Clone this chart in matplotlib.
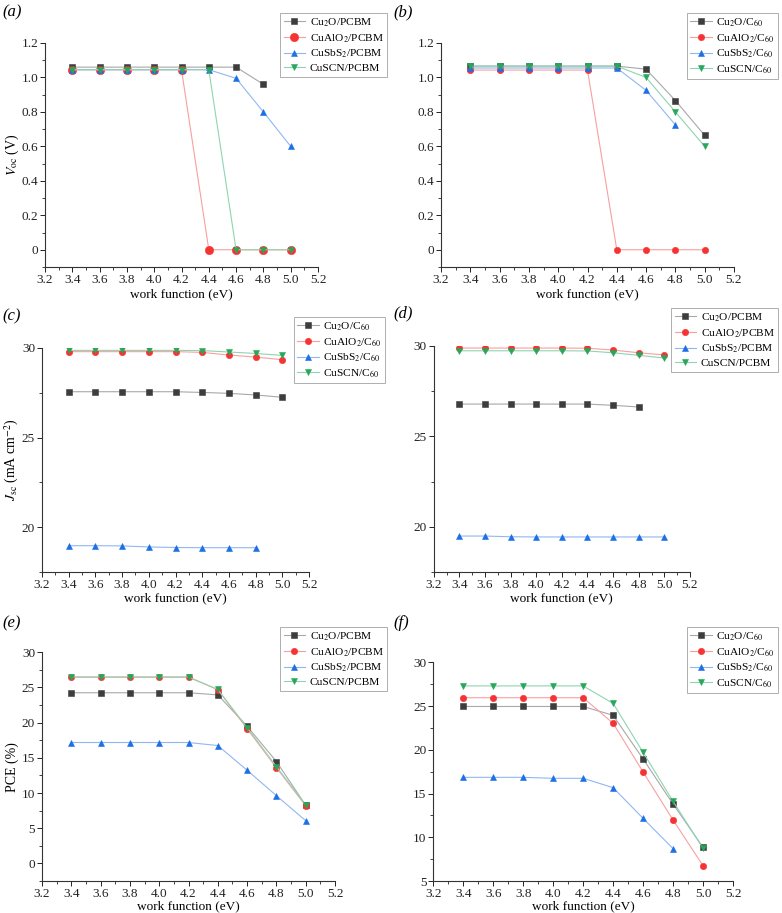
import matplotlib
matplotlib.use("Agg")
import matplotlib.pyplot as plt
from matplotlib.ticker import MultipleLocator, FuncFormatter
import numpy as np

plt.rcParams['font.family'] = ['Liberation Serif', 'DejaVu Serif']
plt.rcParams['mathtext.fontset'] = 'stix'

x = [3.4, 3.6, 3.8, 4.0, 4.2, 4.4, 4.6, 4.8, 5.0]
x8 = x[:8]

# (a) Voc, PCBM
voc_pcbm_cu2o = [1.06, 1.06, 1.06, 1.06, 1.06, 1.06, 1.06, 0.96]
voc_pcbm_cualo2 = [1.045, 1.045, 1.045, 1.045, 1.045, 0, 0, 0, 0]
voc_pcbm_cusbs2 = [1.045, 1.045, 1.045, 1.045, 1.045, 1.045, 0.995, 0.80, 0.60]
voc_pcbm_cuscn = [1.045, 1.045, 1.045, 1.045, 1.045, 1.045, 0, 0, 0]

# (b) Voc, C60
voc_c60_cu2o = [1.066, 1.066, 1.066, 1.066, 1.066, 1.066, 1.048, 0.866, 0.664]
voc_c60_cualo2 = [1.043, 1.043, 1.043, 1.043, 1.043, 0, 0, 0, 0]
voc_c60_cusbs2 = [1.055, 1.055, 1.055, 1.055, 1.055, 1.055, 0.925, 0.725]
voc_c60_cuscn = [1.066, 1.066, 1.066, 1.066, 1.066, 1.066, 1.0, 0.80, 0.60]

# (c) Jsc, C60
jsc_c60_cu2o = [27.55, 27.55, 27.55, 27.55, 27.55, 27.51, 27.46, 27.37, 27.24]
jsc_c60_cualo2 = [29.78, 29.78, 29.78, 29.78, 29.78, 29.74, 29.59, 29.48, 29.33]
jsc_c60_cusbs2 = [18.98, 18.98, 18.97, 18.91, 18.88, 18.87, 18.87, 18.87]
jsc_c60_cuscn = [29.85, 29.85, 29.85, 29.85, 29.85, 29.84, 29.76, 29.68, 29.57]

# (d) Jsc, PCBM
jsc_pcbm_cu2o = [26.78, 26.78, 26.78, 26.78, 26.78, 26.78, 26.71, 26.62]
jsc_pcbm_cualo2 = [29.87, 29.87, 29.87, 29.87, 29.87, 29.86, 29.76, 29.61, 29.49]
jsc_pcbm_cusbs2 = [19.50, 19.50, 19.46, 19.45, 19.45, 19.45, 19.45, 19.45, 19.45]
jsc_pcbm_cuscn = [29.72, 29.72, 29.72, 29.72, 29.72, 29.71, 29.61, 29.47, 29.32]

# (e) PCE, PCBM
pce_pcbm_cu2o = [24.25, 24.25, 24.25, 24.25, 24.25, 23.95, 19.5, 14.48, 8.26]
pce_pcbm_cualo2 = [26.45, 26.45, 26.45, 26.45, 26.45, 24.7, 19.13, 13.6, 8.2]
pce_pcbm_cusbs2 = [17.18, 17.18, 17.18, 17.18, 17.18, 16.75, 13.24, 9.63, 6.07]
pce_pcbm_cuscn = [26.5, 26.5, 26.5, 26.5, 26.5, 24.72, 19.3, 13.76, 8.3]

# (f) PCE, C60
pce_c60_cu2o = [24.95, 24.95, 24.95, 24.95, 24.95, 23.94, 18.95, 13.8, 8.85]
pce_c60_cualo2 = [25.95, 25.95, 25.95, 25.95, 25.95, 23.03, 17.46, 11.97, 6.75]
pce_c60_cusbs2 = [16.85, 16.85, 16.85, 16.74, 16.74, 15.67, 12.16, 8.7]
pce_c60_cuscn = [27.3, 27.3, 27.3, 27.3, 27.3, 25.3, 19.71, 14.1, 8.73]

lab_pcbm = ["Cu$_2$O/PCBM", "CuAlO$_2$/PCBM", "CuSbS$_2$/PCBM", "CuSCN/PCBM"]
lab_c60 = ["Cu$_2$O/C$_{60}$", "CuAlO$_2$/C$_{60}$", "CuSbS$_2$/C$_{60}$", "CuSCN/C$_{60}$"]

mcolors = ['#3d3d3d', '#f53333', '#1c6fe6', '#25a85a']
lcolors = ['#a8a8a8', '#f7a0a0', '#8fb8f2', '#8fd4b0']
markers = ['s', 'o', '^', 'v']

W, H = 782, 913
fig = plt.figure(figsize=(W / 100, H / 100), dpi=100)


def ax_px(l, r, t, b):
    return fig.add_axes([l / W, 1 - b / H, (r - l) / W, (b - t) / H])


def fmt_y1(v, pos):
    if abs(v) < 1e-9:
        return "0"
    return "%.1f" % v


def fmt_y0(v, pos):
    return "%d" % round(v)


panels = [
    dict(box=(45, 318, 43, 267), ylim=(-0.1, 1.2), maj=0.2, mnr=0.1, fmt=fmt_y1,
         data=[(x8, voc_pcbm_cu2o), (x, voc_pcbm_cualo2), (x, voc_pcbm_cusbs2), (x, voc_pcbm_cuscn)],
         labels=lab_pcbm, ylabel=r"$V_{\rm oc}$ (V)", leg=(387, 13), tag="(a)", tagpos=(2, 12),
         big_red=True, xlab_dy=27),
    dict(box=(441, 734, 43, 267), ylim=(-0.1, 1.2), maj=0.2, mnr=0.1, fmt=fmt_y1,
         data=[(x, voc_c60_cu2o), (x, voc_c60_cualo2), (x8, voc_c60_cusbs2), (x, voc_c60_cuscn)],
         labels=lab_c60, ylabel=None, leg=(778, 13), tag="(b)", tagpos=(393, 12),
         big_red=False, xlab_dy=27),
    dict(box=(42, 309, 347.7, 572.3), ylim=(17.5, 30), maj=5, mnr=2.5, fmt=fmt_y0,
         data=[(x, jsc_c60_cu2o), (x, jsc_c60_cualo2), (x8, jsc_c60_cusbs2), (x, jsc_c60_cuscn)],
         labels=lab_c60, ylabel=r"$J_{\rm sc}$ (mA cm$^{-2}$)", leg=(385, 317), tag="(c)", tagpos=(2, 316),
         big_red=False, xlab_dy=26),
    dict(box=(433.7, 690, 345.7, 572.3), ylim=(17.5, 30), maj=5, mnr=2.5, fmt=fmt_y0,
         data=[(x8, jsc_pcbm_cu2o), (x, jsc_pcbm_cualo2), (x, jsc_pcbm_cusbs2), (x, jsc_pcbm_cuscn)],
         labels=lab_pcbm, ylabel=None, leg=(778, 308), tag="(d)", tagpos=(393, 313),
         big_red=False, xlab_dy=26),
    dict(box=(42, 335, 652.3, 881), ylim=(-2.5, 30), maj=5, mnr=2.5, fmt=fmt_y0,
         data=[(x, pce_pcbm_cu2o), (x, pce_pcbm_cualo2), (x, pce_pcbm_cusbs2), (x, pce_pcbm_cuscn)],
         labels=lab_pcbm, ylabel="PCE (%)", leg=(387, 627), tag="(e)", tagpos=(2, 623),
         big_red=False, xlab_dy=25),
    dict(box=(433.3, 733, 662.3, 881), ylim=(5, 30), maj=5, mnr=2.5, fmt=fmt_y0,
         data=[(x, pce_c60_cu2o), (x, pce_c60_cualo2), (x8, pce_c60_cusbs2), (x, pce_c60_cuscn)],
         labels=lab_c60, ylabel=None, leg=(778, 627), tag="(f)", tagpos=(393, 623),
         big_red=False, xlab_dy=25),
]

for p in panels:
    l, r, t, b = p['box']
    ax = ax_px(l, r, t, b)
    wpx, hpx = r - l, b - t
    handles = []
    for i, (xs, ys) in enumerate(p['data']):
        ms = 4.3
        if i == 1:
            ms = 6.0 if p['big_red'] else 4.6
        h, = ax.plot(xs, ys, color=lcolors[i], lw=0.8, marker=markers[i], ms=ms,
                     mfc=mcolors[i], mec=mcolors[i], mew=0.4, label=p['labels'][i])
        handles.append(h)
    ax.set_xlim(3.2, 5.2)
    ax.set_ylim(*p['ylim'])
    ax.xaxis.set_major_locator(MultipleLocator(0.2))
    ax.xaxis.set_minor_locator(MultipleLocator(0.1))
    ax.xaxis.set_major_formatter(FuncFormatter(lambda v, pos: "%.1f" % v))
    ax.yaxis.set_major_locator(MultipleLocator(p['maj']))
    ax.yaxis.set_minor_locator(MultipleLocator(p['mnr']))
    ax.yaxis.set_major_formatter(FuncFormatter(p['fmt']))
    for s in ['top', 'right']:
        ax.spines[s].set_visible(False)
    for s in ['left', 'bottom']:
        ax.spines[s].set_color('#333333')
        ax.spines[s].set_linewidth(0.8)
    ax.tick_params(which='major', direction='out', length=3.5, width=0.7, labelsize=9.5,
                   colors='#222222', pad=1.5)
    ax.tick_params(which='minor', direction='out', length=2, width=0.6, colors='#222222')
    xl = ax.set_xlabel("work function (eV)", fontsize=9.5)
    xl.set_va('center')
    ax.xaxis.set_label_coords(0.5, -p['xlab_dy'] / hpx)
    if p['ylabel']:
        yl = ax.set_ylabel(p['ylabel'], fontsize=10)
        yl.set_va('center')
        ax.yaxis.set_label_coords((12 - l) / wpx, 0.5)
    lx, ly = p['leg']
    leg = fig.legend(handles=handles, loc='upper right',
                     bbox_to_anchor=(lx / W, 1 - ly / H), bbox_transform=fig.transFigure,
                     borderaxespad=0, fontsize=8.2, frameon=True, fancybox=False,
                     handlelength=1.9, handletextpad=0.4, labelspacing=0.28,
                     borderpad=0.3)
    leg.get_frame().set_edgecolor('#999999')
    leg.get_frame().set_linewidth(0.7)
    tx, ty = p['tagpos']
    fig.text(tx / W, 1 - ty / H, p['tag'], fontsize=12, style='italic', va='center', ha='left')

fig.savefig("out.png", dpi=100)
